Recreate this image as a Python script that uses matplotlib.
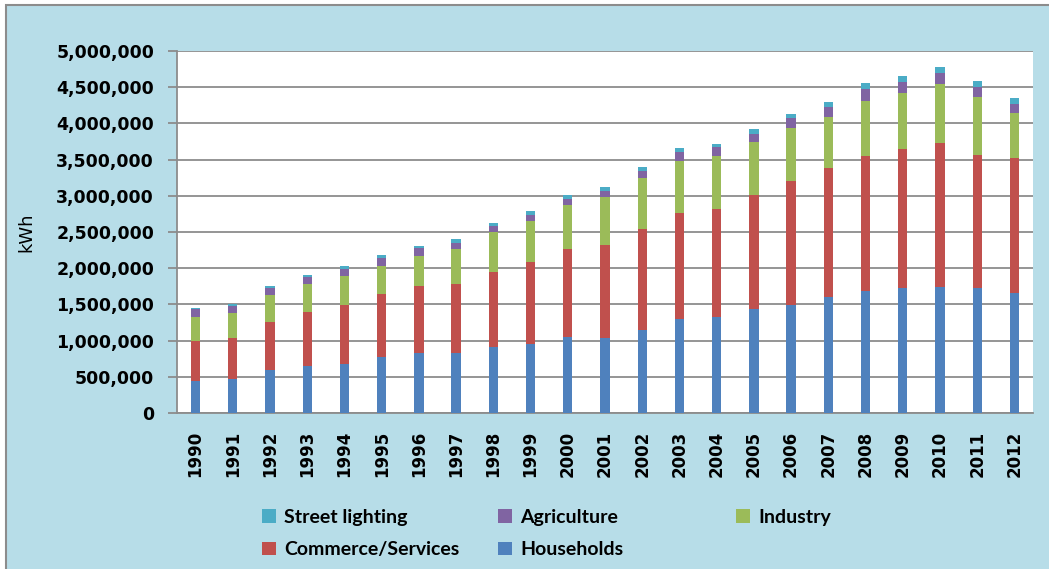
import matplotlib
matplotlib.use('Agg')
import matplotlib.pyplot as plt
from matplotlib.patches import Rectangle
from matplotlib.ticker import FuncFormatter

# data (kWh)
years = [str(y) for y in range(1990, 2013)]
households = [445e3, 473e3, 588e3, 652e3, 676e3, 767e3, 822e3, 831e3, 905e3, 951e3,
              1048e3, 1034e3, 1148e3, 1296e3, 1324e3, 1434e3, 1489e3, 1608e3, 1682e3,
              1723e3, 1737e3, 1723e3, 1663e3]
commerce = [548e3, 561e3, 675e3, 741e3, 817e3, 874e3, 933e3, 948e3, 1047e3, 1131e3,
            1217e3, 1286e3, 1389e3, 1473e3, 1497e3, 1576e3, 1718e3, 1774e3, 1870e3,
            1921e3, 1990e3, 1843e3, 1853e3]
industry = [339e3, 345e3, 368e3, 386e3, 400e3, 394e3, 410e3, 486e3, 544e3, 574e3,
            603e3, 662e3, 703e3, 713e3, 731e3, 731e3, 731e3, 703e3, 764e3,
            782e3, 813e3, 805e3, 629e3]
agriculture = [102e3, 105e3, 92e3, 105e3, 101e3, 102e3, 118e3, 87e3, 86e3, 83e3,
               87e3, 83e3, 101e3, 119e3, 120e3, 114e3, 133e3, 138e3, 155e3,
               142e3, 156e3, 128e3, 129e3]
street = [14e3, 23e3, 32e3, 23e3, 33e3, 46e3, 24e3, 47e3, 42e3, 46e3,
          55e3, 59e3, 55e3, 56e3, 50e3, 69e3, 56e3, 73e3, 83e3,
          92e3, 79e3, 87e3, 83e3]

series = [('Households', households, '#4F81BD'),
          ('Commerce/Services', commerce, '#C0504D'),
          ('Industry', industry, '#9BBB59'),
          ('Agriculture', agriculture, '#8064A2'),
          ('Street lighting', street, '#4BACC6')]

W, H = 1049, 569
fig = plt.figure(figsize=(W / 100, H / 100), dpi=100)
fig.patch.set_facecolor('white')
# light blue chart area with a grey border on top/left
fig.patches.append(Rectangle((6 / W, -0.1), 1.1, 1.1 - 5 / H, transform=fig.transFigure,
                             facecolor='#B7DDE8', edgecolor='#8C8C8C', linewidth=1.5,
                             zorder=-10))

ax = fig.add_axes([177 / W, 1 - 413 / H, (1033 - 177) / W, (413 - 51) / H])
ax.set_zorder(1)
ax.set_facecolor('white')

x = list(range(len(years)))
bottom = [0.0] * len(years)
bars = {}
for name, vals, col in series:
    bars[name] = ax.bar(x, vals, 0.25, bottom=bottom, color=col, edgecolor='none',
                        label=name, zorder=3)
    bottom = [b + v for b, v in zip(bottom, vals)]

ax.set_xlim(-0.5, len(years) - 0.5)
ax.set_ylim(0, 5e6)
ax.set_yticks([i * 5e5 for i in range(11)])
ax.yaxis.set_major_formatter(FuncFormatter(lambda v, p: f'{int(v):,}'))
ax.yaxis.grid(True, color='#8C8C8C', linewidth=1.3, zorder=1)
ax.set_axisbelow(True)

for s in ['top', 'right']:
    ax.spines[s].set_visible(False)
for s in ['left', 'bottom']:
    ax.spines[s].set_color('#8C8C8C')
    ax.spines[s].set_linewidth(1.3)

ax.tick_params(axis='y', length=6.5, width=1.3, color='#8C8C8C', pad=10, labelsize=12.5)
ax.tick_params(axis='x', length=0, pad=13, labelsize=12)
ax.set_xticks(x)
ax.set_xticklabels(years, rotation=90, fontweight='bold')
plt.setp(ax.get_yticklabels(), fontweight='bold')
ax.set_ylabel('kWh', fontsize=13)
ax.yaxis.set_label_coords(-0.166, 0.5)

# legend laid out in three columns like the original
legend_kw = dict(frameon=False, prop={'family': 'Lato', 'weight': 'bold', 'size': 14},
                 handlelength=0.7, handleheight=0.7, handletextpad=0.45,
                 labelspacing=0.78, borderpad=0, borderaxespad=0, loc='upper left')
cols = [(['Street lighting', 'Commerce/Services'], 262),
        (['Agriculture', 'Households'], 498),
        (['Industry'], 736)]
for names, xpix in cols:
    fig.legend([bars[n] for n in names], names,
               bbox_to_anchor=(xpix / W, 1 - 509 / H), **legend_kw)

fig.savefig('out.png', dpi=100)
